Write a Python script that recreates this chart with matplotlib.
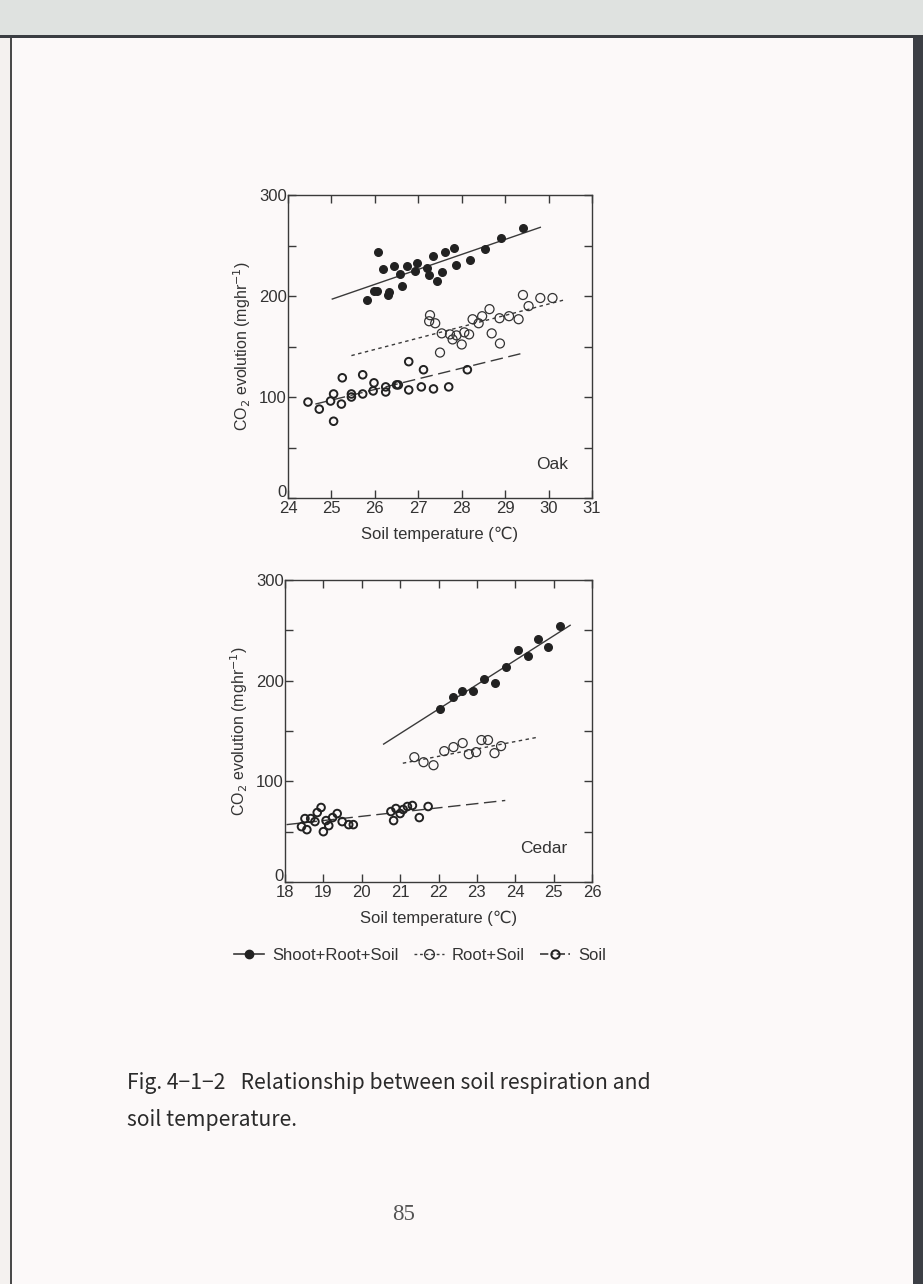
import matplotlib
matplotlib.use("Agg")
import matplotlib.pyplot as plt
import matplotlib.transforms as mtransforms
from matplotlib.lines import Line2D
from matplotlib.patches import Rectangle

plt.rcParams['font.family'] = ['Liberation Sans', 'DejaVu Sans']

# ---------------- Oak data ----------------
oak_srs_x = [25.83, 25.98, 26.06, 26.08, 26.19, 26.30, 26.32, 26.43, 26.59, 26.62, 26.75, 26.93, 26.98,
             27.20, 27.24, 27.35, 27.42, 27.55, 27.61, 27.83, 27.86, 28.18, 28.54, 28.91, 29.41]
oak_srs_y = [196, 205, 205, 244, 227, 201, 204, 230, 222, 210, 230, 225, 233,
             228, 221, 240, 215, 224, 244, 248, 231, 236, 247, 257, 267]
oak_rs_x = [27.27, 27.25, 27.39, 27.50, 27.54, 27.73, 27.79, 27.88, 28.00, 28.06, 28.17, 28.25, 28.39,
            28.47, 28.64, 28.69, 28.88, 28.87, 29.09, 29.31, 29.41, 29.54, 29.81, 30.09]
oak_rs_y = [181, 175, 173, 144, 163, 162, 157, 161, 152, 164, 162, 177, 173,
            180, 187, 163, 153, 178, 180, 177, 201, 190, 198, 198]
oak_s_x = [24.46, 24.72, 24.98, 25.05, 25.05, 25.23, 25.25, 25.46, 25.46, 25.72, 25.72, 25.96, 25.98,
           26.25, 26.25, 26.50, 26.54, 26.78, 26.78, 27.07, 27.12, 27.35, 27.70, 28.13]
oak_s_y = [95, 88, 96, 103, 76, 93, 119, 100, 103, 103, 122, 106, 114,
           105, 110, 112, 112, 135, 107, 110, 127, 108, 110, 127]
oak_fit_srs = ([25.02, 29.81], [197, 268])
oak_fit_rs = ([25.46, 30.35], [141, 196])
oak_fit_s = ([24.63, 29.37], [93, 143])

# ---------------- Cedar data ----------------
cedar_srs_x = [22.05, 22.37, 22.62, 22.89, 23.19, 23.47, 23.77, 24.07, 24.34, 24.58, 24.86, 25.16]
cedar_srs_y = [172, 184, 190, 190, 202, 198, 214, 230, 225, 241, 233, 254]
cedar_rs_x = [21.37, 21.61, 21.87, 22.15, 22.39, 22.63, 22.79, 22.98, 23.12, 23.29, 23.46, 23.63]
cedar_rs_y = [124, 119, 116, 130, 134, 138, 127, 129, 141, 141, 128, 135]
cedar_s_x = [18.43, 18.52, 18.57, 18.67, 18.78, 18.84, 18.94, 19.00, 19.07, 19.14, 19.24, 19.36,
             19.49, 19.66, 19.78, 20.76, 20.83, 20.89, 21.00, 21.08, 21.19, 21.32, 21.50, 21.73]
cedar_s_y = [55, 63, 52, 63, 60, 69, 74, 50, 61, 56, 64, 68,
             60, 57, 57, 70, 61, 73, 68, 72, 75, 76, 64, 75]
cedar_fit_srs = ([20.57, 25.43], [137, 255])
cedar_fit_rs = ([21.07, 24.61], [118, 144])
cedar_fit_s = ([18.04, 23.74], [57, 81])

legend_labels = ["Shoot+Root+Soil", "Root+Soil", "Soil"]
caption_lines = ["Fig. 4\u22121\u22122\u2002 Relationship between soil respiration and",
                 "soil temperature."]

W, H = 923, 1284
fig = plt.figure(figsize=(W / 100, H / 100), dpi=100)
fig.patch.set_facecolor('#fcf9f9')

# scan decorations
fig.add_artist(Rectangle((0, 1 - 35 / H), 1, 35 / H, transform=fig.transFigure,
                         facecolor='#dfe2e0', edgecolor='none'))
fig.add_artist(Rectangle((0, 1 - 38 / H), 1, 3 / H, transform=fig.transFigure,
                         facecolor='#3a3d42', edgecolor='none'))
fig.add_artist(Rectangle((10 / W, 0), 2 / W, 1 - 38 / H, transform=fig.transFigure,
                         facecolor='#4a4a4a', edgecolor='none'))
fig.add_artist(Rectangle((0, 0), 10 / W, 1 - 38 / H, transform=fig.transFigure,
                         facecolor='#f4f1ef', edgecolor='none'))
fig.add_artist(Rectangle((913 / W, 0), 10 / W, 1 - 38 / H, transform=fig.transFigure,
                         facecolor='#3c3f45', edgecolor='none'))

ink = '#3a3a3a'
txt = '#333333'


def panel(rect, xlim, srs, rs, s, fits, name):
    ax = fig.add_axes(rect)
    ax.set_facecolor('none')
    (fx1, fy1), (fx2, fy2), (fx3, fy3) = fits
    ax.plot(fx1, fy1, '-', color=ink, lw=1.0)
    ax.plot(fx2, fy2, color=ink, lw=1.0, linestyle=(0, (2.5, 2.5)))
    ax.plot(fx3, fy3, color=ink, lw=1.0, linestyle=(0, (9, 4)))
    ax.scatter(srs[0], srs[1], s=30, color='#222222', zorder=3)
    ax.scatter(rs[0], rs[1], s=42, facecolor='none', edgecolor='#333333', linewidths=0.9, zorder=3)
    ax.scatter(s[0], s[1], s=30, facecolor='none', edgecolor='#222222', linewidths=1.4, zorder=3)
    ax.set_xlim(*xlim)
    ax.set_ylim(0, 300)
    ax.set_xticks(range(xlim[0], xlim[1] + 1))
    ax.set_yticks([0, 100, 200, 300])
    ax.set_yticks([50, 150, 250], minor=True)
    ax.tick_params(which='both', direction='in', top=True, right=True, length=6,
                   width=1, colors=ink, labelsize=12, labelcolor=txt)
    ax.tick_params(axis='y', pad=1)
    ax.tick_params(axis='x', pad=2)
    for sp in ax.spines.values():
        sp.set_color(ink)
        sp.set_linewidth(1)
    # lift the "0" label a little, as in the original
    zero = ax.get_yticklabels()[0]
    zero.set_transform(zero.get_transform() +
                       mtransforms.ScaledTranslation(0, 7 / 100, fig.dpi_scale_trans))
    ax.set_xlabel("Soil temperature (\u2103)", fontsize=12, color=txt, labelpad=8)
    ax.set_ylabel("CO$_2$ evolution (mghr$^{-1}$)", fontsize=11.5, color=txt, labelpad=4)
    ax.text(0.92, 0.11, name, transform=ax.transAxes, ha='right', va='center',
            fontsize=12.5, color=txt)
    return ax


panel([288 / W, 1 - 498 / H, 304 / W, 303 / H], (24, 31),
      (oak_srs_x, oak_srs_y), (oak_rs_x, oak_rs_y), (oak_s_x, oak_s_y),
      (oak_fit_srs, oak_fit_rs, oak_fit_s), "Oak")
panel([285 / W, 1 - 882 / H, 307 / W, 302 / H], (18, 26),
      (cedar_srs_x, cedar_srs_y), (cedar_rs_x, cedar_rs_y), (cedar_s_x, cedar_s_y),
      (cedar_fit_srs, cedar_fit_rs, cedar_fit_s), "Cedar")

handles = [
    Line2D([], [], color=ink, lw=1.2, marker='o', markersize=6, markerfacecolor='#222222',
           markeredgecolor='#222222'),
    Line2D([], [], color=ink, lw=1.0, linestyle=(0, (2, 2)), marker='o', markersize=7,
           markerfacecolor='none', markeredgecolor='#333333'),
    Line2D([], [], color=ink, lw=1.2, linestyle=(0, (5, 2, 1, 2)), marker='o', markersize=6,
           markerfacecolor='none', markeredgecolor='#222222', markeredgewidth=1.4),
]
fig.legend(handles, legend_labels, loc='center', bbox_to_anchor=(420 / W, 1 - 955 / H),
           ncol=3, frameon=False, fontsize=12, handlelength=1.8, handletextpad=0.5,
           columnspacing=0.9, labelcolor=txt)

cap_font = ['Noto Sans CJK JP', 'DejaVu Sans']
fig.text(127 / W, 1 - 1083 / H, caption_lines[0], ha='left', va='center', fontsize=15.2,
         family=cap_font, color='#2a2a2a')
fig.text(127 / W, 1 - 1120 / H, caption_lines[1], ha='left', va='center', fontsize=15.2,
         family=cap_font, color='#2a2a2a')
fig.text(404 / W, 1 - 1214 / H, "85", ha='center', va='center', fontsize=16.5,
         family=['Liberation Serif', 'DejaVu Serif'], color='#555555')

fig.savefig("out.png", dpi=100, facecolor=fig.get_facecolor())
